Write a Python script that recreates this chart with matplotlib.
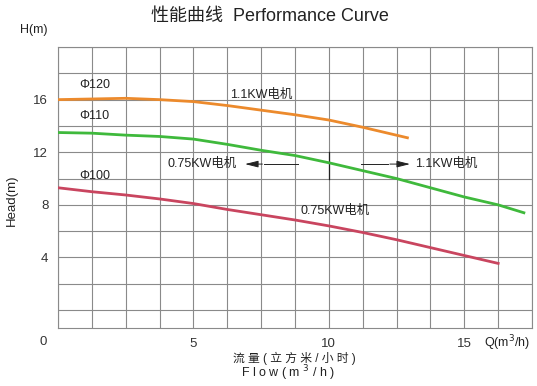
import matplotlib.pyplot as plt
import numpy as np

plt.rcParams['font.family'] = ['Liberation Sans', 'Noto Sans CJK SC', 'DejaVu Sans']

# 流量 Q (m3/h) 与 扬程 H (m) 读数
q_120 = [0, 1.25, 2.5, 3.75, 5, 6.25, 7.5, 8.75, 10, 11.25, 12.9]
h_120 = [16.0, 16.05, 16.1, 16.0, 15.85, 15.55, 15.2, 14.85, 14.45, 13.9, 13.1]

q_110 = [0, 1.25, 2.5, 3.75, 5, 6.25, 7.5, 8.75, 10, 11.25, 12.5, 13.75, 15, 16.25, 17.2]
h_110 = [13.5, 13.45, 13.3, 13.2, 13.0, 12.6, 12.15, 11.75, 11.2, 10.6, 10.0, 9.3, 8.6, 8.0, 7.4]

q_100 = [0, 1.25, 2.5, 3.75, 5, 6.25, 7.5, 8.75, 10, 11.25, 12.5, 13.75, 15, 16.25]
h_100 = [9.3, 9.0, 8.75, 8.45, 8.1, 7.65, 7.25, 6.85, 6.4, 5.9, 5.35, 4.75, 4.15, 3.55]

x_ticks = [5, 10, 15]
y_ticks = [4, 8, 12, 16]

fig = plt.figure(figsize=(5.37, 3.86), dpi=100)
ax = fig.add_axes([0.108, 0.1503, 0.8827, 0.7279])

# 网格
x_max = 17.5
y_min, y_max = -1.36, 20
for gx in np.arange(0, x_max + 0.01, 1.25):
    ax.axvline(gx, color='#8a8a8a', lw=0.8, zorder=1)
for gy in np.arange(0, y_max + 0.01, 2):
    ax.axhline(gy, color='#8a8a8a', lw=0.8, zorder=1)

ax.plot(q_120, h_120, color='#ec8a2c', lw=2, zorder=3)
ax.plot(q_110, h_110, color='#3fb93c', lw=2, zorder=3)
ax.plot(q_100, h_100, color='#c9455f', lw=2, zorder=3)

ax.set_xlim(0, x_max)
ax.set_ylim(y_min, y_max)
ax.set_xticks(x_ticks)
ax.set_yticks(y_ticks)
ax.tick_params(length=0, labelsize=9.5, colors='#333333')
ax.tick_params(axis='x', pad=7)
ax.tick_params(axis='y', pad=7)
for s in ax.spines.values():
    s.set_color('#8a8a8a')
    s.set_linewidth(0.8)

# 曲线标注
ax.text(0.8, 16.85, 'Φ120', fontsize=9, color='#222222')
ax.text(0.8, 14.5, 'Φ110', fontsize=9, color='#222222')
ax.text(0.8, 10.0, 'Φ100', fontsize=9, color='#222222')
ax.text(6.35, 16.15, '1.1KW电机', fontsize=9, color='#222222')
ax.text(8.95, 7.3, '0.75KW电机', fontsize=9, color='#222222')
ax.text(4.05, 11.1, '0.75KW电机', fontsize=9, color='#222222', va='center')
ax.text(13.2, 11.1, '1.1KW电机', fontsize=9, color='#222222', va='center')

# 分界线与箭头
ax.plot([10, 10], [9.95, 12.05], color='#222222', lw=0.9)
ax.plot([7.6, 8.85], [11.1, 11.1], color='#222222', lw=0.7)
ax.annotate('', xy=(6.8, 11.1), xytext=(7.65, 11.1),
            arrowprops=dict(arrowstyle='-|>,head_length=0.8,head_width=0.2', color='#222222', lw=0.7))
ax.plot([11.2, 12.2], [11.1, 11.1], color='#222222', lw=0.7)
ax.annotate('', xy=(13.1, 11.1), xytext=(12.15, 11.1),
            arrowprops=dict(arrowstyle='-|>,head_length=0.8,head_width=0.2', color='#222222', lw=0.7))

# 标题和坐标轴文字
fig.text(0.503, 0.958, '性能曲线  Performance Curve', fontsize=13, ha='center', va='center', color='#222222')
fig.text(0.063, 0.922, 'H(m)', fontsize=9, ha='center', va='center', color='#222222')
fig.text(0.022, 0.48, 'Head(m)', fontsize=9.5, rotation=90, ha='center', va='center', color='#222222')
fig.text(0.080, 0.114, '0', fontsize=9.5, ha='center', va='center', color='#333333')
fig.text(0.944, 0.112, 'Q(m$^3$/h)', fontsize=9, ha='center', va='center', color='#222222')
fig.text(0.548, 0.071, '流 量 ( 立 方 米 / 小 时 )', fontsize=8.5, ha='center', va='center', color='#222222')
fig.text(0.537, 0.032, 'F l o w ( m $^3$ / h )', fontsize=9, ha='center', va='center', color='#222222')

fig.savefig('out.png', dpi=100)
